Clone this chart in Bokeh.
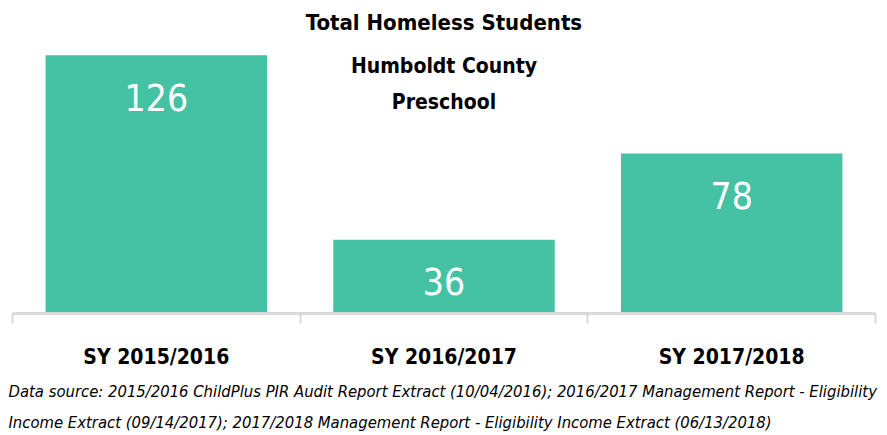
from bokeh.plotting import figure
from bokeh.models import Range1d, FixedTicker, Label, LabelSet, ColumnDataSource, Title
from bokeh.core.properties import value
from bokeh.embed import file_html
from bokeh.resources import INLINE

categories = ["SY 2015/2016", "SY 2016/2017", "SY 2017/2018"]
counts = [126, 36, 78]
title_lines = ["Total Homeless Students", "Humboldt County", "Preschool"]
footnote_lines = [
    "Data source: 2015/2016  ChildPlus PIR Audit Report Extract (10/04/2016); 2016/2017 Management Report - Eligibility",
    "Income  Extract (09/14/2017);  2017/2018 Management Report - Eligibility Income Extract (06/13/2018)",
]

FONT = "DejaVu Sans Condensed"
BAR = "#45C2A3"
GRAY = "#d9d9d9"

frame_h = 305
px_per_unit = 2.05
y_end = frame_h / px_per_unit

p = figure(width=887, height=435, output_backend="svg", toolbar_location=None,
           x_range=Range1d(0, len(categories)), y_range=Range1d(0, y_end),
           y_axis_location=None, min_border_left=12, min_border_right=12,
           min_border_top=8, min_border_bottom=0, frame_height=frame_h, frame_width=863)
p.outline_line_color = None
p.grid.visible = False
p.background_fill_color = "white"

centers = [i + 0.5 for i in range(len(categories))]
src = ColumnDataSource(dict(x=centers, top=counts, label=[str(c) for c in counts]))
p.vbar(x="x", top="top", bottom=0, width=0.77, source=src, fill_color=BAR, line_color=None)

p.add_layout(LabelSet(x="x", y="top", text="label", source=src, y_offset=-42,
                      text_align="center", text_baseline="middle", text_color="white",
                      text_font=value(FONT), text_font_size="37px"))

ax = p.xaxis[0]
ax.ticker = FixedTicker(ticks=centers, minor_ticks=list(range(len(categories) + 1)))
ax.major_label_overrides = {c: cat for c, cat in zip(centers, categories)}
ax.axis_line_color = GRAY
ax.axis_line_width = 3
ax.major_tick_line_color = None
ax.major_tick_out = 0
ax.major_tick_in = 0
ax.minor_tick_line_color = GRAY
ax.minor_tick_line_width = 2
ax.minor_tick_out = 10
ax.minor_tick_in = 0
ax.major_label_standoff = 21
ax.major_label_text_font = FONT
ax.major_label_text_font_style = "bold"
ax.major_label_text_font_size = "21px"
ax.major_label_text_color = "black"

# titles inside the frame (page y positions converted to data units)
title_pos = [(22, "22px"), (65, "21px"), (101, "21px")]
for txt, (py, fs) in zip(title_lines, title_pos):
    yv = (313 - py) / px_per_unit
    p.add_layout(Label(x=len(categories) / 2, y=yv, text=txt, text_align="center",
                       text_baseline="middle", text_font=FONT, text_font_style="bold",
                       text_font_size=fs, text_color="black"))

for i, line in enumerate(footnote_lines):
    p.add_layout(Title(text=line, align="left", offset=-4, standoff=4 if i else 16,
                       text_font=FONT, text_font_style="italic", text_font_size="16.5px",
                       text_color="black"), "below")

open("out.html", "w").write(file_html(p, INLINE))
